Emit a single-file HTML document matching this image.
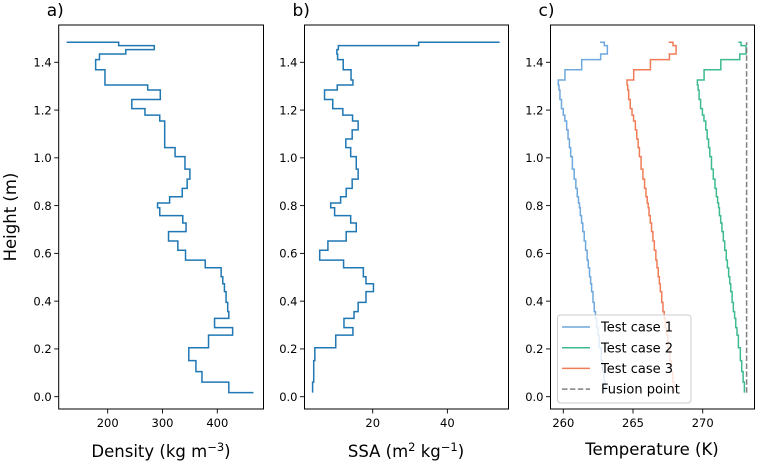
<!DOCTYPE html>
<html><head><meta charset="utf-8"><style>
body{margin:0;background:#fff;}
svg text{font-family:"DejaVu Sans","Liberation Sans",sans-serif;fill:#000;}
</style></head><body>
<svg id="fig" width="757" height="462" viewBox="0 0 757 462" xmlns="http://www.w3.org/2000/svg"></svg>
<script>
// ---- data ----
const heights=[0.017,0.061,0.105,0.151,0.205,0.258,0.289,0.328,0.356,0.395,0.440,0.473,0.502,0.540,0.572,0.613,0.652,0.691,0.727,0.758,0.791,0.811,0.837,0.872,0.911,0.953,1.005,1.043,1.079,1.117,1.154,1.179,1.206,1.244,1.284,1.305,1.326,1.369,1.411,1.435,1.453,1.470,1.484];
const density=[466,421,372,361,348,384,428,395,421,419,416,413,410,407,378,342,328,311,343,337,295,291,313,336,345,350,341,323,304,304,304,295,268,244,296,273,195,195,178,185,233,285,220,125];
const ssa=[3.9,3.9,4.2,4.2,4.5,10.1,14.7,12.3,15.0,16.1,18.2,20.2,18.2,17.5,12.2,5.8,8.0,12.9,15.6,14.1,9.8,8.75,11.4,12.9,14.5,16.1,15.6,14.1,12.8,14.5,16.1,14.6,12.0,9.3,7.1,10.5,14.7,14.2,12.1,10.6,10.4,10.8,32.3,54.0];
const tempCase1=[263.01,263.01,262.92,262.82,262.72,262.58,262.48,262.39,262.31,262.22,262.13,262.03,261.96,261.88,261.79,261.71,261.60,261.50,261.40,261.31,261.22,261.16,261.09,261.00,260.90,260.78,260.65,260.53,260.44,260.34,260.24,260.11,260.00,259.87,259.76,259.69,259.64,260.12,261.32,262.68,263.16,263.16,262.94,262.63];
const tempCase2=[272.99,272.99,272.90,272.80,272.70,272.56,272.46,272.37,272.29,272.20,272.11,272.01,271.94,271.86,271.77,271.69,271.58,271.48,271.38,271.29,271.20,271.14,271.07,270.98,270.88,270.76,270.63,270.51,270.42,270.32,270.22,270.09,269.98,269.85,269.74,269.67,269.62,270.10,271.30,272.66,273.11,273.11,272.75,272.56];
const tempCase3=[267.94,267.94,267.85,267.75,267.65,267.51,267.41,267.32,267.24,267.15,267.06,266.96,266.89,266.81,266.72,266.64,266.53,266.43,266.33,266.24,266.15,266.09,266.02,265.93,265.83,265.71,265.58,265.46,265.37,265.27,265.17,265.04,264.93,264.80,264.69,264.62,264.57,265.05,266.25,267.61,268.09,268.09,267.87,267.56];
const fusionPoint=273.15;
const yTicks=[0.0,0.2,0.4,0.6,0.8,1.0,1.2,1.4];
const densityTicks=[200,300,400];
const ssaTicks=[20,40];
const tempTicks=[260,265,270];
const legendLabels=["Test case 1","Test case 2","Test case 3","Fusion point"];

const NS="http://www.w3.org/2000/svg";
const svg=document.getElementById('fig');
function mk(tag,attrs,parent){const e=document.createElementNS(NS,tag);for(const k in attrs)e.setAttribute(k,attrs[k]);(parent||svg).appendChild(e);return e;}
const top_=25,bot=409;
const yScale=h=>396.7-h*238.86;
const panels=[
 {left:58.7,right:263.5,x:v=>107.7+(v-200)*0.548,ticks:densityTicks,title:'a)',name:'density'},
 {left:304.5,right:508.5,x:v=>372.7+(v-20)*3.733,ticks:ssaTicks,title:'b)',name:'ssa'},
 {left:550.5,right:754.5,x:v=>563.3+(v-260)*13.94,ticks:tempTicks,title:'c)',name:'temperature'}
];
function stepPath(xf,vals){
 let d='M'+xf(vals[0]).toFixed(2)+','+yScale(heights[0]).toFixed(2);
 for(let i=1;i<vals.length;i++){
  d+=' L'+xf(vals[i]).toFixed(2)+','+yScale(heights[i-1]).toFixed(2);
  if(i<heights.length)d+=' L'+xf(vals[i]).toFixed(2)+','+yScale(heights[i]).toFixed(2);
 }
 return d;
}
panels.forEach((p,pi)=>{
 const g=mk('g',{});
 
 
 const cp=mk('clipPath',{id:'cp'+pi},g);
 mk('rect',{x:p.left,y:top_,width:p.right-p.left,height:bot-top_},cp);
 const pg=mk('g',{'clip-path':'url(#cp'+pi+')'},g);
 if(pi===0){
  const l=mk('path',{d:stepPath(p.x,density),fill:'none',stroke:'#1f77b4','stroke-width':1.5},pg);
  
  
 } else if(pi===1){
  const l=mk('path',{d:stepPath(p.x,ssa),fill:'none',stroke:'#1f77b4','stroke-width':1.5},pg);
  
  
 } else {
  const series=[[tempCase1,'#6fa8dc','test-case-1-line'],[tempCase2,'#3dbb8d','test-case-2-line'],[tempCase3,'#f07c57','test-case-3-line']];
  series.forEach(s=>{
   const l=mk('path',{d:stepPath(p.x,s[0]),fill:'none',stroke:s[1],'stroke-width':1.5},pg);
   
   
  });
  const fx=p.x(fusionPoint);
  const f=mk('line',{x1:fx,x2:fx,y1:yScale(heights[0]),y2:yScale(heights[heights.length-1]),stroke:'#808080','stroke-width':1.5,'stroke-dasharray':'5.5,2.4'},pg);
  
  
 }
 const fr=mk('rect',{x:p.left,y:top_,width:p.right-p.left,height:bot-top_,fill:'none',stroke:'#000','stroke-width':1},g);
 
 
 yTicks.forEach(t=>{
  const y=yScale(t);
  mk('line',{x1:p.left-4.5,x2:p.left,y1:y,y2:y,stroke:'#000','stroke-width':0.9},g);
  const tx=mk('text',{x:p.left-7,y:y+4.3,'font-size':'11.5','text-anchor':'end'},g);
  tx.textContent=t.toFixed(1);
  
  
 });
 p.ticks.forEach(t=>{
  const x=p.x(t);
  mk('line',{x1:x,x2:x,y1:bot,y2:bot+4.5,stroke:'#000','stroke-width':0.9},g);
  const tx=mk('text',{x:x,y:bot+18,'font-size':'11.5','text-anchor':'middle'},g);
  tx.textContent=t;
  
  
 });
 const ti=mk('text',{x:p.left-12,y:16,'font-size':'17'},g);
 ti.textContent=p.title;
 
 
});
</script>
<script>
// static labels & legend
(function(){
 const svg=document.getElementById('fig');
 const NS="http://www.w3.org/2000/svg";
 function mk(tag,attrs,parent){const e=document.createElementNS(NS,tag);for(const k in attrs)e.setAttribute(k,attrs[k]);(parent||svg).appendChild(e);return e;}
 let t=mk('text',{x:161,y:457,'font-size':'16.5','text-anchor':'middle'});
 t.innerHTML='Density (kg m<tspan dy="-6" font-size="11.5">−3</tspan><tspan dy="6">)</tspan>';
 
 
 t=mk('text',{x:406,y:457,'font-size':'16.5','text-anchor':'middle'});
 t.innerHTML='SSA (m<tspan dy="-6" font-size="11.5">2</tspan><tspan dy="6"> kg</tspan><tspan dy="-6" font-size="11.5">−1</tspan><tspan dy="6">)</tspan>';
 
 
 t=mk('text',{x:652,y:455,'font-size':'16.5','text-anchor':'middle'});
 t.textContent='Temperature (K)';
 
 
 t=mk('text',{x:0,y:0,'font-size':'16.5','text-anchor':'middle',transform:'translate(16,217) rotate(-90)'});
 t.textContent='Height (m)';
 
 
 const lg=mk('g',{});
 
 
 mk('rect',{x:557.5,y:315,width:133.5,height:88,rx:3,fill:'#fff','fill-opacity':0.8,stroke:'#cccccc','stroke-width':1},lg);
 const cols=['#6fa8dc','#3dbb8d','#f07c57','#808080'];
 legendLabels.forEach((lab,i)=>{
  const y=327+i*20.7;
  const ln=mk('line',{x1:562,x2:590,y1:y,y2:y,stroke:cols[i],'stroke-width':1.5},lg);
  if(i===3)ln.setAttribute('stroke-dasharray','5.5,2.4');
  const tx=mk('text',{x:601,y:y+4.6,'font-size':'13'},lg);
  tx.textContent=lab;
  
  
 });
})();
</script>
</body></html>
